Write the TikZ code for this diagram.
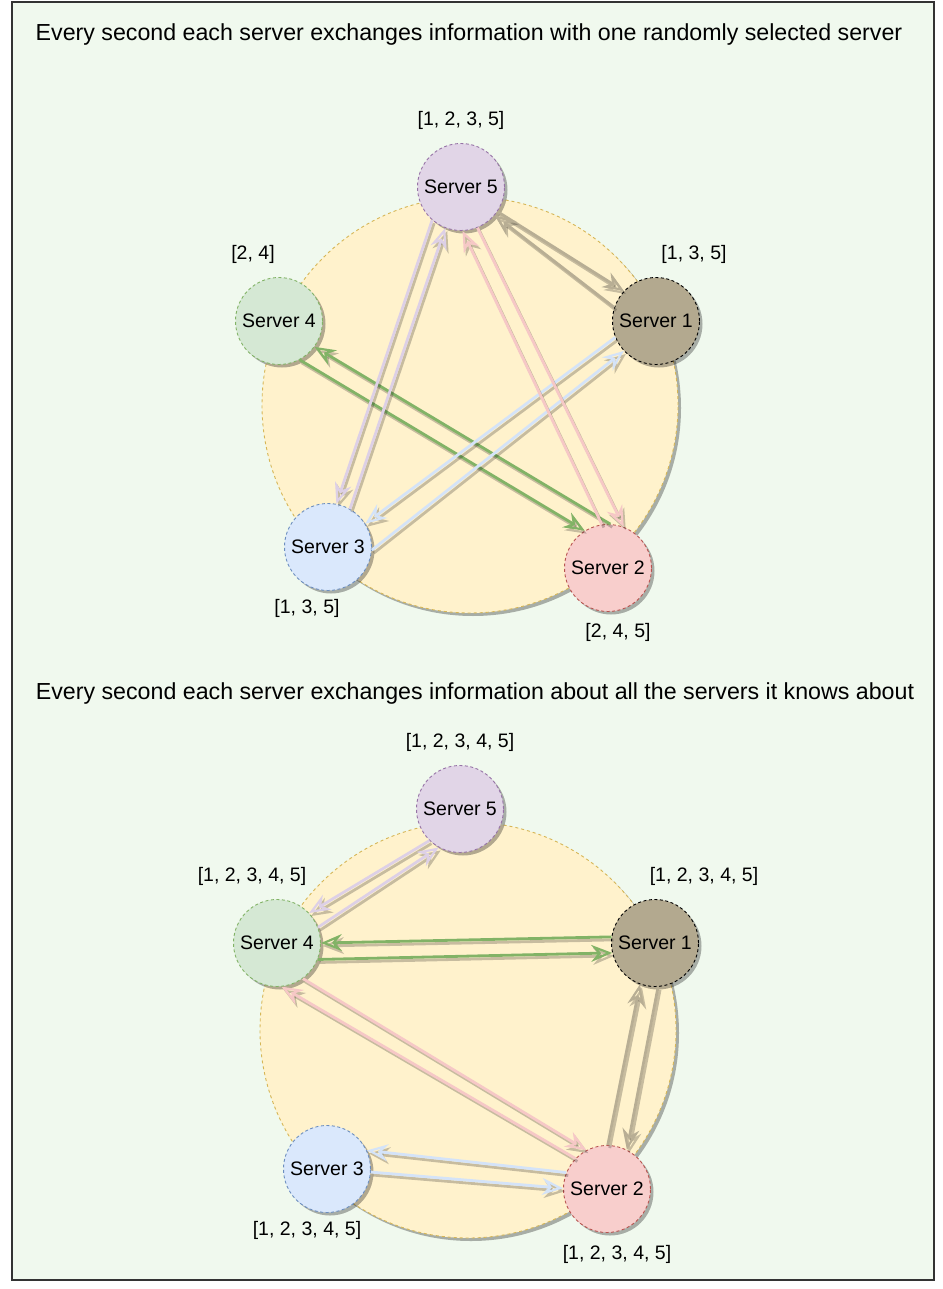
\documentclass[tikz,border=0pt]{standalone}
\usepackage{fontspec}
\setmainfont{Liberation Sans}
\usetikzlibrary{arrows.meta,shadows}
\definecolor{bgc}{RGB}{240,249,238}
\definecolor{framec}{RGB}{51,51,51}
\definecolor{fivef}{HTML}{E1D5E7}\definecolor{fived}{HTML}{9673A6}
\definecolor{onef}{HTML}{B3A98F}\definecolor{oned}{HTML}{000000}
\definecolor{fourf}{HTML}{D5E8D4}\definecolor{fourd}{HTML}{82B366}
\definecolor{threef}{HTML}{DAE8FC}\definecolor{threed}{HTML}{6C8EBF}
\definecolor{twof}{HTML}{F8CECC}\definecolor{twod}{HTML}{B85450}
\definecolor{bigf}{HTML}{FFF2CC}\definecolor{bigd}{HTML}{D6B656}
\definecolor{tanarr}{HTML}{B8AE94}
\definecolor{greenarr}{HTML}{82B366}
\definecolor{bluearr}{HTML}{D4E3F8}
\definecolor{lavarr}{HTML}{DDD0E6}
\definecolor{pinkarr}{HTML}{F6C8C6}
\newcommand\gossiparrow[3]{%
  \draw[arrshadow] ([shift={(2pt,-3pt)}]#2) -- ([shift={(2pt,-3pt)}]#3);
  \draw[arr,draw=#1] (#2) -- (#3);}
\begin{document}
\begin{tikzpicture}[x=1pt,y=-1pt,
  server/.style={circle,minimum size=87pt,inner sep=0pt,line width=0.9pt,
    dash pattern=on 3pt off 2.5pt,font=\fontsize{19.5}{23}\selectfont,
    drop shadow={shadow xshift=3pt,shadow yshift=-3pt,opacity=0.3,fill=black}},
  bigcirc/.style={circle,minimum size=416pt,inner sep=0pt,fill=bigf,draw=bigd,
    line width=0.9pt,dash pattern=on 3pt off 3pt,
    drop shadow={shadow xshift=3pt,shadow yshift=-3pt,opacity=0.3,fill=black}},
  lbl/.style={font=\fontsize{19.5}{23}\selectfont,inner sep=0pt},
  ttl/.style={font=\fontsize{23.2}{27}\selectfont,inner sep=0pt},
  arr/.style={line width=2.8pt,-{Stealth[open,length=21pt,width=17pt,inset=7pt,line width=2.2pt]}},
  arrshadow/.style={line width=2.8pt,draw=black,opacity=0.22,
    -{Stealth[open,length=21pt,width=17pt,inset=7pt,line width=2.2pt]}}]
\useasboundingbox (0,0) rectangle (942,1289);
\draw[fill=bgc,draw=framec,line width=1.5pt] (12,2) rectangle (934,1280);

% ---------- top ----------
\node[ttl] (t1) at (469,35) {Every second each server exchanges information with one randomly selected server};
\node[bigcirc] (b1) at (470,405) {};
\node[server,fill=fivef,draw=fived] (a5) at (461,187) {Server 5};
\node[server,fill=onef,draw=oned] (a1) at (656,321) {Server 1};
\node[server,fill=fourf,draw=fourd] (a4) at (279,321) {Server 4};
\node[server,fill=threef,draw=threed] (a3) at (328,547) {Server 3};
\node[server,fill=twof,draw=twod] (a2) at (608,568) {Server 2};
\node[lbl] (la5) at (461,120) {[1, 2, 3, 5]};
\node[lbl] (la1) at (694,254) {[1, 3, 5]};
\node[lbl] (la4) at (253,254) {[2, 4]};
\node[lbl] (la3) at (307,608) {[1, 3, 5]};
\node[lbl] (la2) at (618,632) {[2, 4, 5]};

\gossiparrow{tanarr}{a5.-34}{a1.137}
\gossiparrow{tanarr}{a1.162}{a5.-40}
\gossiparrow{greenarr}{a4.-62}{a2.122}
\gossiparrow{greenarr}{a2.87}{a4.-36}
\gossiparrow{bluearr}{a1.-158}{a3.32}
\gossiparrow{bluearr}{a3.-4}{a1.-137}
\gossiparrow{lavarr}{a5.-131}{a3.79}
\gossiparrow{lavarr}{a3.60}{a5.-111}
\gossiparrow{pinkarr}{a2.98}{a5.-88}
\gossiparrow{pinkarr}{a5.-68}{a2.69}

% ---------- bottom ----------
\node[ttl] (t2) at (475,693) {Every second each server exchanges information about all the servers it knows about};
\node[bigcirc] (b2) at (468,1030) {};
\node[server,fill=fivef,draw=fived] (c5) at (460,809) {Server 5};
\node[server,fill=onef,draw=oned] (c1) at (655,943) {Server 1};
\node[server,fill=fourf,draw=fourd] (c4) at (277,943) {Server 4};
\node[server,fill=threef,draw=threed] (c3) at (327,1169) {Server 3};
\node[server,fill=twof,draw=twod] (c2) at (607,1189) {Server 2};
\node[lbl] (lc5) at (460,742) {[1, 2, 3, 4, 5]};
\node[lbl] (lc1) at (704,876) {[1, 2, 3, 4, 5]};
\node[lbl] (lc4) at (252,876) {[1, 2, 3, 4, 5]};
\node[lbl] (lc3) at (307,1230) {[1, 2, 3, 4, 5]};
\node[lbl] (lc2) at (617,1254) {[1, 2, 3, 4, 5]};

\gossiparrow{lavarr}{c5.226}{c4.43}
\gossiparrow{lavarr}{c4.21}{c5.241}
\gossiparrow{greenarr}{c1.172}{c4.0}
\gossiparrow{greenarr}{c4.-22}{c1.193}
\gossiparrow{tanarr}{c2.89}{c1.250}
\gossiparrow{tanarr}{c1.-86}{c2.63}
\gossiparrow{pinkarr}{c2.136}{c4.-84}
\gossiparrow{pinkarr}{c4.-54}{c2.118}
\gossiparrow{bluearr}{c2.158}{c3.25}
\gossiparrow{bluearr}{c3.-4}{c2.179}
\end{tikzpicture}
\end{document}
